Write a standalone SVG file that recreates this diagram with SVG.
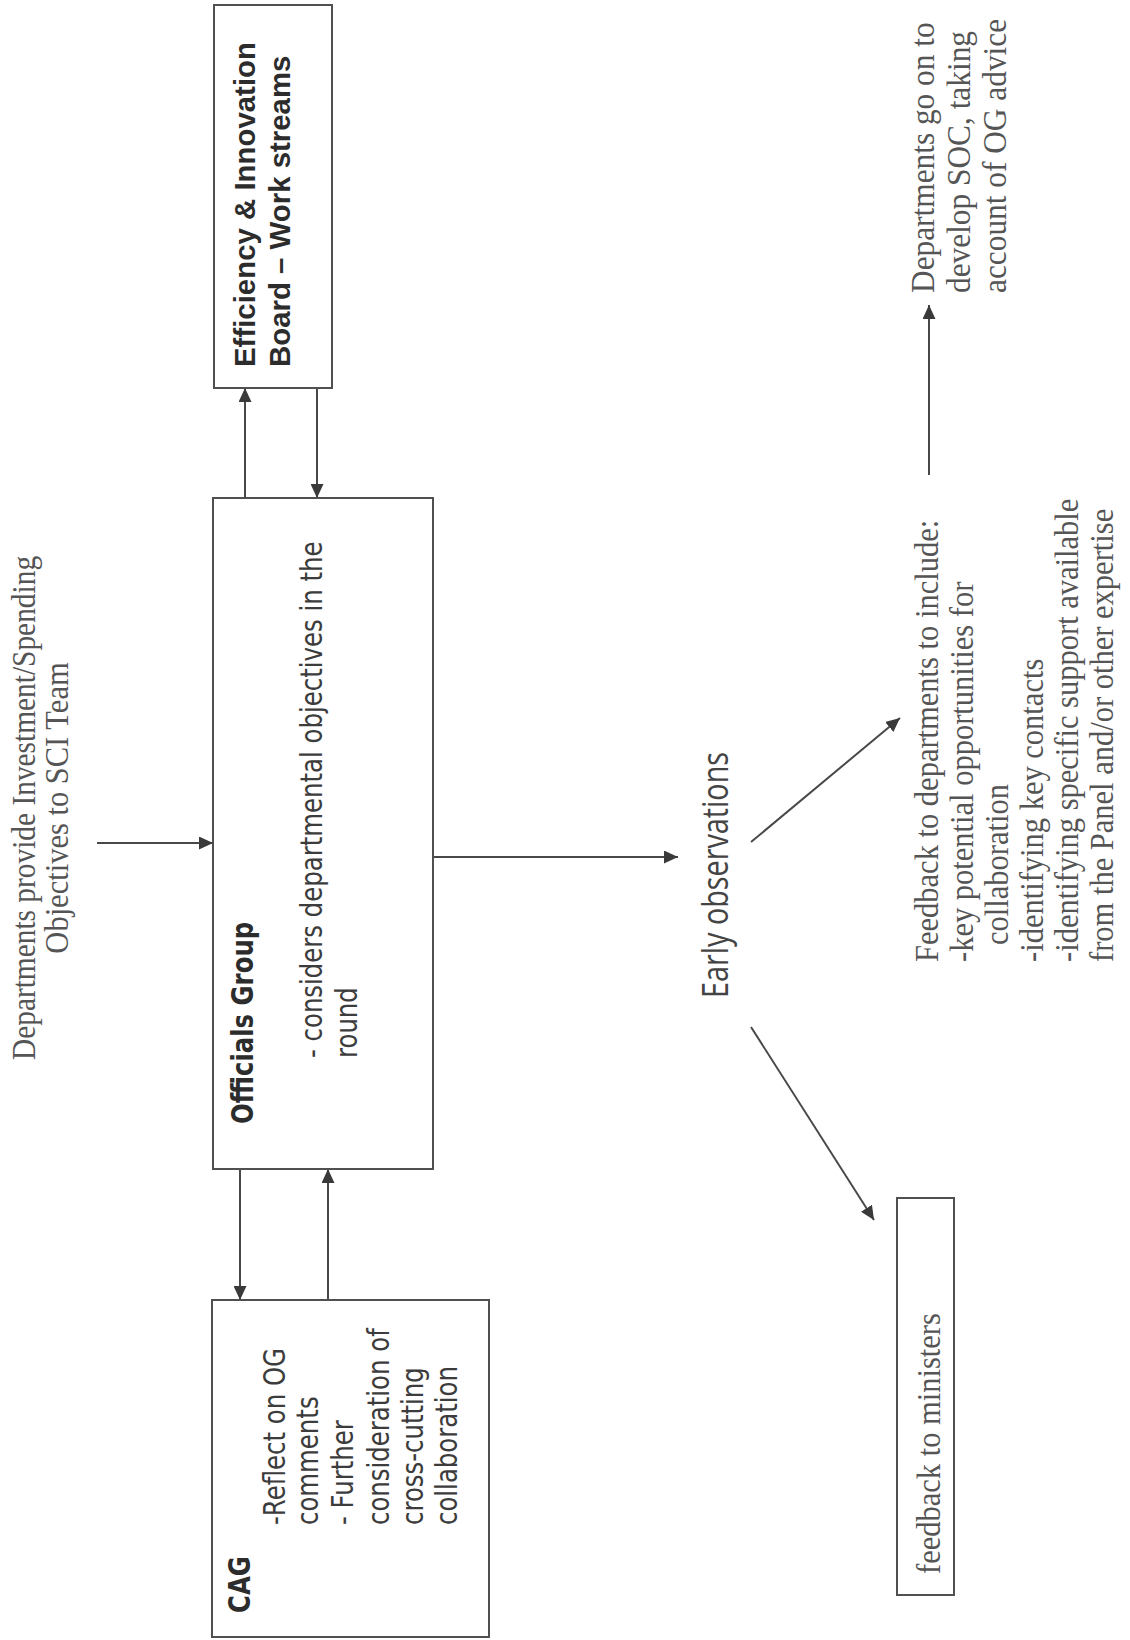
<svg xmlns="http://www.w3.org/2000/svg" width="1130" height="1640" viewBox="0 0 1130 1640">
<defs>
<marker id="ah" markerUnits="userSpaceOnUse" markerWidth="14" markerHeight="13" refX="14" refY="6.5" orient="auto">
<path d="M0,0 L14,6.5 L0,13 z" fill="#3a3a3a"/>
</marker>
</defs>
<style>
.box{fill:none;stroke:#505050;stroke-width:2}
.con line{stroke:#484848;stroke-width:2;marker-end:url(#ah)}
.serif{font-family:"Liberation Serif","Times New Roman",serif;font-size:33px;fill:#555}
.sans{font-family:"DejaVu Sans",Verdana,sans-serif;font-size:30.5px;fill:#3c3c3c}
.sansb{font-family:"DejaVu Sans",Verdana,sans-serif;font-size:30.5px;font-weight:bold;fill:#2c2c2c}
.arialb{font-family:"Liberation Sans",Arial,sans-serif;font-size:29.4px;font-weight:bold;fill:#2c2c2c}
.open{font-family:"Open Sans","Liberation Sans",sans-serif;font-size:36px;fill:#444}
</style>
<rect width="1130" height="1640" fill="#fff"/>

<g id="connectors" class="con">
<line x1="97" y1="843" x2="213" y2="843"/>
<line x1="245" y1="498" x2="245" y2="388"/>
<line x1="317" y1="388" x2="317" y2="498"/>
<line x1="240" y1="1169" x2="240" y2="1300"/>
<line x1="328" y1="1300" x2="328" y2="1169"/>
<line x1="433" y1="857" x2="678" y2="857"/>
<line x1="751" y1="842" x2="900" y2="718"/>
<line x1="751" y1="1027" x2="874" y2="1220"/>
<line x1="929" y1="475" x2="929" y2="305"/>
</g>

<g id="departments-input">
<g class="serif" transform="translate(35,808) rotate(-90) scale(0.925,1)" text-anchor="middle">
<text x="0" y="0" textLength="545" lengthAdjust="spacingAndGlyphs">Departments provide Investment/Spending</text>
<text x="0" y="33">Objectives to SCI Team</text>
</g>
</g>

<g id="eib">
<rect class="box" x="214" y="5" width="118" height="383"/>
<g class="arialb" transform="translate(255,367) rotate(-90)">
<text x="0" y="0">Efficiency &amp; Innovation</text>
<text x="0" y="35">Board – Work streams</text>
</g>
</g>

<g id="officials-group">
<rect class="box" x="213" y="498" width="220" height="671"/>
<g class="sansb" transform="translate(253,1124) rotate(-90) scale(0.8,1)">
<text x="0" y="0">Officials Group</text>
</g>
<g class="sans" transform="translate(322,1058) rotate(-90) scale(0.8,1)">
<text x="0" y="0">- considers departmental objectives in the</text>
<text x="0" y="35">round</text>
</g>
</g>

<g id="cag">
<rect class="box" x="212" y="1300" width="277" height="337"/>
<g class="sansb" transform="translate(250,1613) rotate(-90) scale(0.8,1)">
<text x="0" y="0">CAG</text>
</g>
<g class="sans" transform="translate(285,1525) rotate(-90) scale(0.8,1)">
<text x="0" y="0">-Reflect on OG</text>
<text x="0" y="33">comments</text>
<text x="0" y="68">- Further</text>
<text x="0" y="104">consideration of</text>
<text x="0" y="138">cross-cutting</text>
<text x="0" y="172">collaboration</text>
</g>
</g>

<g id="early-observations">
<g class="open" transform="translate(728,998) rotate(-90) scale(0.8,1)">
<text x="0" y="0">Early observations</text>
</g>
</g>

<g id="feedback-departments">
<g class="serif" transform="translate(938,962) rotate(-90) scale(0.925,1)">
<text x="0" y="0">Feedback to departments to include:</text>
<text x="0" y="35">-key potential opportunities for</text>
<text x="18.4" y="70">collaboration</text>
<text x="0" y="105">-identifying key contacts</text>
<text x="0" y="140">-identifying specific support available</text>
<text x="0" y="175">from the Panel and/or other expertise</text>
</g>
</g>

<g id="departments-soc">
<g class="serif" transform="translate(934,293) rotate(-90) scale(0.95,1)">
<text x="0" y="0">Departments go on to</text>
<text x="0" y="36">develop SOC, taking</text>
<text x="0" y="72">account of OG advice</text>
</g>
</g>

<g id="ministers">
<rect class="box" x="897" y="1198" width="57" height="397"/>
<g class="serif" transform="translate(940,1574) rotate(-90) scale(0.925,1)">
<text x="0" y="0">feedback to ministers</text>
</g>
</g>
</svg>
